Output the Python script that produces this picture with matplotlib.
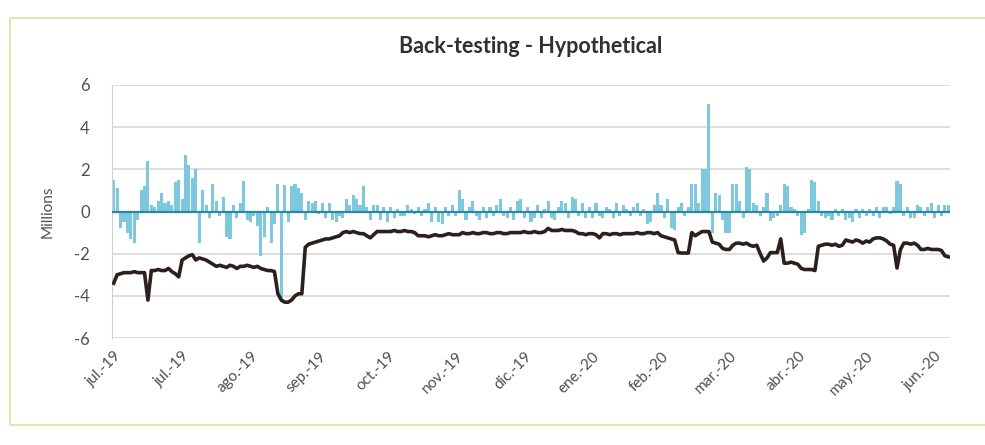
import matplotlib.pyplot as plt
from matplotlib.patches import Rectangle
import numpy as np

# daily hypothetical P&L (millions), one value per business day
pnl = [
    1.5, 1.1, -0.8, -0.5, -1.0, -1.3, -1.5, -0.4, 1.0, 1.2,
    2.4, 0.3, 0.2, 0.5, 0.9, 0.4, 0.5, 0.3, 1.4, 1.5,
    0.6, 2.7, 2.2, 1.6, 2.0, -1.5, 1.0, 0.3, -0.3, 1.3,
    0.5, -0.2, 0.7, -1.2, -1.3, 0.3, -0.3, 0.4, 1.45, -0.4,
    -0.5, -0.2, -0.7, -2.1, -1.2, 0.2, -1.5, -0.6, 1.3, -4.3,
    1.25, -0.5, 1.2, 1.3, 1.1, 0.9, -0.4, 0.5, 0.4, 0.5,
    -0.1, 0.4, -0.3, 0.4, -0.4, -0.5, -0.2, -0.3, 0.6, 0.3,
    0.8, 0.6, 0.3, 1.2, 0.2, -0.4, 0.3, 0.3, -0.4, 0.2,
    -0.5, 0.2, -0.3, 0.1, -0.2, -0.2, 0.3, 0.1, -0.1, 0.2,
    -0.2, 0.1, 0.4, -0.5, 0.2, -0.5, -0.6, 0.2, -0.2, 0.3,
    -0.2, 1.0, 0.6, -0.4, 0.2, 0.5, -0.2, -0.4, 0.2, -0.3,
    0.2, -0.2, 0.3, 0.6, -0.2, -0.3, 0.2, -0.4, 0.5, 0.6,
    -0.3, 0.2, -0.5, -0.3, 0.3, -0.3, 0.1, 0.5, -0.3, -0.4,
    0.2, 0.5, 0.4, -0.3, 0.7, 0.6, -0.2, 0.4, -0.3, 0.2,
    -0.3, 0.4, -0.2, -0.3, 0.2, 0.1, -0.3, 0.4, -0.2, 0.3,
    0.1, -0.2, 0.2, 0.4, -0.2, 0.1, -0.6, -0.5, 0.3, 0.9,
    0.3, -0.3, 0.6, -0.8, -0.9, 0.2, 0.4, -0.2, 0.2, 1.3,
    1.3, 0.4, 2.0, 2.0, 5.1, -1.0, 0.9, 0.8, -0.4, -1.0,
    -1.0, 1.3, 1.3, 0.5, -0.3, 2.1, 2.0, 0.4, 0.3, -0.2,
    0.2, 0.9, -0.45, -0.3, -0.2, 0.3, 1.3, 1.2, 0.2, 0.1,
    -0.2, -1.1, -1.0, 0.1, 1.5, 1.4, 0.5, -0.2, -0.3, -0.2,
    -0.4, 0.1, -0.2, 0.1, -0.4, -0.3, -0.5, 0.1, -0.3, 0.1,
    -0.2, 0.1, -0.2, 0.2, -0.3, 0.2, 0.2, -0.1, 0.2, 1.45,
    1.3, -0.2, 0.2, -0.3, -0.3, 0.3, 0.2, -0.2, 0.2, 0.4,
    -0.3, 0.3, -0.2, 0.3, 0.3,
]

# VaR limit (millions)
var = [
    -3.4, -3.0, -2.95, -2.9, -2.9, -2.9, -2.85, -2.9, -2.9, -2.9,
    -4.2, -2.8, -2.8, -2.75, -2.8, -2.8, -2.7, -2.85, -2.95, -3.1,
    -2.3, -2.2, -2.1, -2.05, -2.3, -2.2, -2.25, -2.3, -2.4, -2.5,
    -2.6, -2.55, -2.6, -2.65, -2.55, -2.6, -2.7, -2.6, -2.6, -2.55,
    -2.6, -2.65, -2.6, -2.7, -2.75, -2.8, -2.8, -2.85, -3.9, -4.2,
    -4.3, -4.3, -4.2, -4.0, -3.9, -3.9, -1.7, -1.55, -1.5, -1.45,
    -1.4, -1.35, -1.3, -1.3, -1.25, -1.2, -1.15, -1.0, -0.95, -1.0,
    -0.95, -1.0, -1.05, -1.05, -1.15, -1.25, -1.1, -0.95, -0.95, -0.95,
    -0.95, -0.95, -0.9, -0.95, -0.95, -0.9, -0.95, -0.95, -1.0, -1.15,
    -1.15, -1.15, -1.2, -1.15, -1.1, -1.15, -1.15, -1.1, -1.05, -1.1,
    -1.1, -1.1, -1.0, -1.05, -1.05, -1.0, -1.05, -1.05, -1.0, -1.0,
    -1.05, -1.05, -1.0, -1.0, -1.05, -1.05, -1.0, -1.0, -1.0, -1.0,
    -0.95, -1.0, -1.0, -0.95, -1.0, -1.0, -0.95, -0.8, -0.9, -0.9,
    -0.9, -0.85, -0.9, -0.9, -0.9, -0.95, -1.05, -1.05, -1.1, -1.05,
    -1.05, -1.1, -1.25, -1.05, -1.05, -1.1, -1.05, -1.05, -1.1, -1.05,
    -1.05, -1.05, -1.05, -1.0, -1.05, -1.05, -1.0, -1.0, -1.05, -1.0,
    -1.15, -1.2, -1.25, -1.3, -1.35, -1.95, -1.97, -1.97, -1.97, -1.0,
    -1.15, -1.05, -0.95, -0.95, -0.95, -1.45, -1.5, -1.55, -1.75, -1.8,
    -1.8, -1.6, -1.5, -1.5, -1.55, -1.5, -1.6, -1.65, -1.6, -2.0,
    -2.35, -2.2, -1.95, -1.95, -1.95, -1.3, -2.45, -2.45, -2.4, -2.45,
    -2.5, -2.7, -2.75, -2.75, -2.75, -2.8, -1.65, -1.6, -1.55, -1.55,
    -1.6, -1.55, -1.65, -1.6, -1.35, -1.4, -1.45, -1.35, -1.4, -1.5,
    -1.4, -1.45, -1.3, -1.25, -1.25, -1.3, -1.4, -1.55, -1.6, -2.68,
    -1.8, -1.5, -1.5, -1.55, -1.5, -1.6, -1.8, -1.8, -1.75, -1.8,
    -1.8, -1.8, -1.85, -2.1, -2.15,
]

month_labels = ['jul.-19', 'jul.-19', 'ago.-19', 'sep.-19', 'oct.-19', 'nov.-19',
                'dic.-19', 'ene.-20', 'feb.-20', 'mar.-20', 'abr.-20', 'may.-20',
                'jun.-20']
label_step = 20

plt.rcParams['font.family'] = ['Lato', 'DejaVu Sans']

n = len(pnl)
x = np.arange(n)

fig = plt.figure(figsize=(9.85, 4.45), dpi=100)
ax = fig.add_axes([0.1137, 0.2404, 0.8508, 0.5686])

# outer chart frame
fig.patches.append(Rectangle((0.010, 0.045), 1.0, 0.915, transform=fig.transFigure,
                             fill=False, edgecolor='#e2e6b0', linewidth=1.5))

ax.bar(x, pnl, width=0.9, color='#7ec8de', zorder=2)
ax.axhline(0, color='#2a86a2', linewidth=1.6, zorder=3)
ax.plot(x, var, color='#2b201b', linewidth=2.6, zorder=4)

ax.set_xlim(-0.5, n - 0.5)
ax.set_ylim(-6, 6)
ax.set_yticks(np.arange(-6, 7, 2))
ax.set_yticklabels([str(v) for v in range(-6, 7, 2)])
ax.grid(axis='y', color='#d4d4d4', linewidth=1.1, zorder=0)
ax.set_axisbelow(True)

ax.set_xticks(x[::label_step][:len(month_labels)])
ax.set_xticklabels(month_labels, rotation=45, ha='right', va='top',
                   rotation_mode='anchor', fontsize=11, color='#505050')
ax.tick_params(axis='x', length=0, pad=8)
ax.tick_params(axis='y', length=0, pad=16, labelsize=12, labelcolor='#505050')

for side in ['top', 'right', 'bottom']:
    ax.spines[side].set_visible(False)
ax.spines['left'].set_color('#cfcfcf')

ax.set_ylabel('Millions', fontsize=11, color='#505050')
ax.yaxis.set_label_coords(-0.068, 0.5)

fig.text(0.539, 0.895, 'Back-testing - Hypothetical', ha='center', va='center',
         fontsize=15.5, fontweight='bold', color='#303030')

fig.savefig('out.png', dpi=100)
